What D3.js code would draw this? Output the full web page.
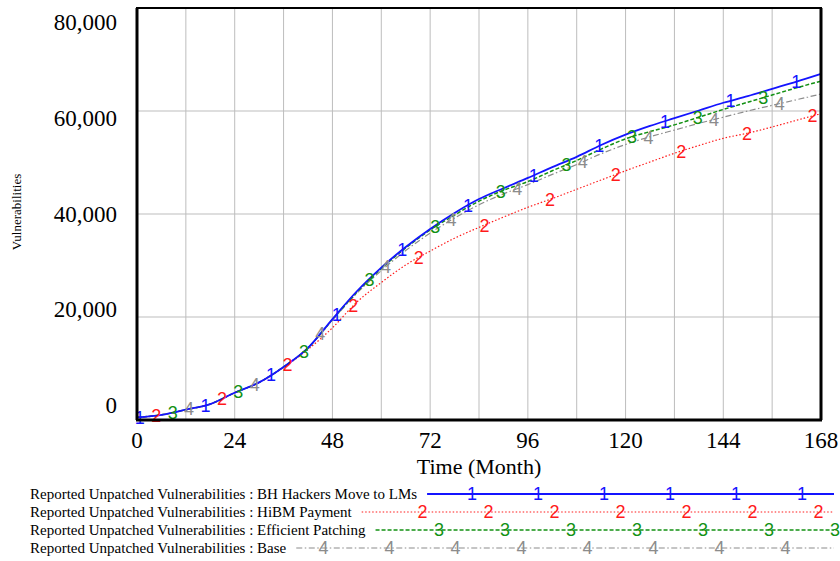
<!DOCTYPE html>
<html>
<head>
<meta charset="utf-8">
<script src="https://cdn.jsdelivr.net/npm/d3@7"></script>
<style>
  body { margin: 0; background: #fff; }
  svg { display: block; }
</style>
</head>
<body>
<script>
// months sampled every 6
var months = [0, 6, 12, 18, 24, 30, 36, 42, 48, 54, 60, 66, 72, 78, 84, 90, 96,
  102, 108, 114, 120, 126, 132, 138, 144, 150, 156, 162, 168];

var bhHackers = [500, 1000, 2000, 3100, 5300, 7300, 10300, 14000, 19600, 25000, 29600, 33600, 37100, 40200, 42900, 45000, 47000,
  49100, 51100, 53400, 55400, 57100, 58600, 60100, 61600, 62900, 64300, 65700, 67200];
var hibmPayment = [500, 1000, 2000, 3100, 5300, 7300, 10200, 13700, 17900, 22900, 26700, 30100, 32800, 35300, 37400, 39400, 41300,
  43000, 44800, 46600, 48400, 50100, 51800, 53300, 54700, 55700, 56900, 58200, 59500];
var efficientPatching = [500, 1000, 2000, 3100, 5300, 7300, 10300, 14000, 19500, 24800, 29400, 33400, 36900, 39800, 42500, 44600, 46300,
  48400, 50400, 52600, 54600, 56000, 57300, 58800, 60300, 61700, 63100, 64500, 65800];
var base = [500, 1000, 2000, 3100, 5300, 7300, 10300, 14000, 19400, 24600, 29000, 32900, 36300, 39200, 41800, 43900, 45700,
  47700, 49600, 51700, 53500, 55000, 56300, 57600, 58800, 60000, 61100, 62200, 63300];

var seriesNames = ['BH Hackers Move to LMs', 'HiBM Payment', 'Efficient Patching', 'Base'];
var seriesValues = [bhHackers, hibmPayment, efficientPatching, base];
var seriesColors = ['#1414ff', '#ff1a1a', '#139113', '#8c8c8c'];
var seriesDash = [null, '1.5,2', '4,2', '6,2.5,1.5,2.5'];
var seriesWidth = [1.8, 1.2, 1.5, 1.2];

var xTicks = [0, 24, 48, 72, 96, 120, 144, 168];
var xGrid = d3.range(0, 169, 12);
var yTicks = [0, 20000, 40000, 60000, 80000];

var width = 840, height = 561;
var plot = {left: 137, right: 821, top: 8, bottom: 420};

var svg = d3.select('body').append('svg')
    .attr('width', width)
    .attr('height', height);

var x = d3.scaleLinear().domain([0, 168]).range([plot.left, plot.right]);
var y = d3.scaleLinear().domain([0, 80000]).range([plot.bottom, plot.top]);
// Vensim spreads the y labels slightly inside the frame
var yLabel = d3.scaleLinear().domain([0, 80000]).range([405.5, 22.5]);

// grid
svg.append('g')
    .selectAll('line')
    .data(xGrid)
    .enter().append('line')
    .attr('x1', function (d) { return x(d); })
    .attr('x2', function (d) { return x(d); })
    .attr('y1', plot.top)
    .attr('y2', plot.bottom)
    .attr('stroke', '#bdbdbd')
    .attr('stroke-width', 1);

svg.append('g')
    .selectAll('line')
    .data(yTicks)
    .enter().append('line')
    .attr('x1', plot.left)
    .attr('x2', plot.right)
    .attr('y1', function (d) { return y(d); })
    .attr('y2', function (d) { return y(d); })
    .attr('stroke', '#bdbdbd')
    .attr('stroke-width', 1);

// tick labels
svg.append('g')
    .selectAll('text')
    .data(yTicks)
    .enter().append('text')
    .attr('x', 117)
    .attr('y', function (d) { return yLabel(d); })
    .attr('dy', '0.33em')
    .attr('text-anchor', 'end')
    .style('font', '23px "Liberation Serif", "Times New Roman", serif')
    .text(d3.format(','));

svg.append('g')
    .selectAll('text')
    .data(xTicks)
    .enter().append('text')
    .attr('x', function (d) { return x(d); })
    .attr('y', 448)
    .attr('text-anchor', 'middle')
    .style('font', '23px "Liberation Serif", "Times New Roman", serif')
    .text(function (d) { return d; });

svg.append('text')
    .attr('x', (plot.left + plot.right) / 2)
    .attr('y', 474)
    .attr('text-anchor', 'middle')
    .style('font', '22px "Liberation Serif", "Times New Roman", serif')
    .text('Time (Month)');

svg.append('text')
    .attr('transform', 'translate(21,' + 212 + ') rotate(-90)')
    .attr('text-anchor', 'middle')
    .style('font', '13px "Liberation Serif", "Times New Roman", serif')
    .text('Vulnerabilities');

// series lines
var line = d3.line()
    .x(function (d) { return x(d[0]); })
    .y(function (d) { return y(d[1]); })
    .curve(d3.curveMonotoneX);

function pairs(vals) {
  return months.map(function (m, i) { return [m, vals[i]]; });
}

function valueAt(vals, t) {
  var i = d3.bisectRight(months, t);
  if (i <= 0) return vals[0];
  if (i >= months.length) return vals[vals.length - 1];
  var f = (t - months[i - 1]) / (months[i] - months[i - 1]);
  return vals[i - 1] + f * (vals[i] - vals[i - 1]);
}

// draw in reverse so the blue run sits on top
var order = [3, 2, 1, 0];
order.forEach(function (s) {
  svg.append('path')
      .datum(pairs(seriesValues[s]))
      .attr('d', line)
      .attr('fill', 'none')
      .attr('stroke', seriesColors[s])
      .attr('stroke-width', seriesWidth[s])
      .attr('stroke-dasharray', seriesDash[s]);
});

// numbered markers on the curves
var markerStart = 0.7, markerStep = 4.03;
order.forEach(function (s) {
  var ts = [];
  for (var k = 0; ; k++) {
    var t = markerStart + (s + 4 * k) * markerStep;
    if (t > 168) break;
    ts.push(t);
  }
  svg.append('g')
      .selectAll('text')
      .data(ts)
      .enter().append('text')
      .attr('x', function (t) { return x(t); })
      .attr('y', function (t) { return y(valueAt(seriesValues[s], t)); })
      .attr('dy', '0.36em')
      .attr('text-anchor', 'middle')
      .attr('fill', seriesColors[s])
      .style('font', '18px "Liberation Sans", Arial, sans-serif')
      .text(s + 1);
});

// frame
svg.append('rect')
    .attr('x', plot.left)
    .attr('y', plot.top)
    .attr('width', plot.right - plot.left)
    .attr('height', plot.bottom - plot.top)
    .attr('fill', 'none')
    .attr('stroke', '#000')
    .attr('stroke-width', 2);
svg.append('line')
    .attr('x1', plot.left - 1).attr('x2', plot.right + 1)
    .attr('y1', plot.bottom).attr('y2', plot.bottom)
    .attr('stroke', '#000').attr('stroke-width', 3);
svg.append('line')
    .attr('x1', plot.left).attr('x2', plot.left)
    .attr('y1', plot.top).attr('y2', plot.bottom)
    .attr('stroke', '#000').attr('stroke-width', 3);
svg.append('line')
    .attr('x1', plot.right).attr('x2', plot.right)
    .attr('y1', plot.top).attr('y2', plot.bottom)
    .attr('stroke', '#000').attr('stroke-width', 3);

// legend
var legendY = [494, 512, 530, 548];
var legendEnd = 834;
seriesNames.forEach(function (name, s) {
  var g = svg.append('g');
  var label = g.append('text')
      .attr('x', 30)
      .attr('y', legendY[s])
      .attr('dy', '0.33em')
      .style('font', '15px "Liberation Serif", "Times New Roman", serif')
      .text('Reported Unpatched Vulnerabilities : ' + name);
  var start = 30 + label.node().getComputedTextLength() + 10;
  g.append('line')
      .attr('x1', start)
      .attr('x2', legendEnd)
      .attr('y1', legendY[s])
      .attr('y2', legendY[s])
      .attr('stroke', seriesColors[s])
      .attr('stroke-width', seriesWidth[s])
      .attr('stroke-dasharray', seriesDash[s]);
  var xs = [];
  for (var k = -8; k < 8; k++) {
    var px = 472 + s * 16.5 + k * 66;
    if (px > start + 4 && px <= legendEnd + 3) xs.push(px);
  }
  g.selectAll('.mk')
      .data(xs)
      .enter().append('text')
      .attr('x', function (d) { return d; })
      .attr('y', legendY[s])
      .attr('dy', '0.36em')
      .attr('text-anchor', 'middle')
      .attr('fill', seriesColors[s])
      .style('font', '18px "Liberation Sans", Arial, sans-serif')
      .text(s + 1);
});
</script>
</body>
</html>
